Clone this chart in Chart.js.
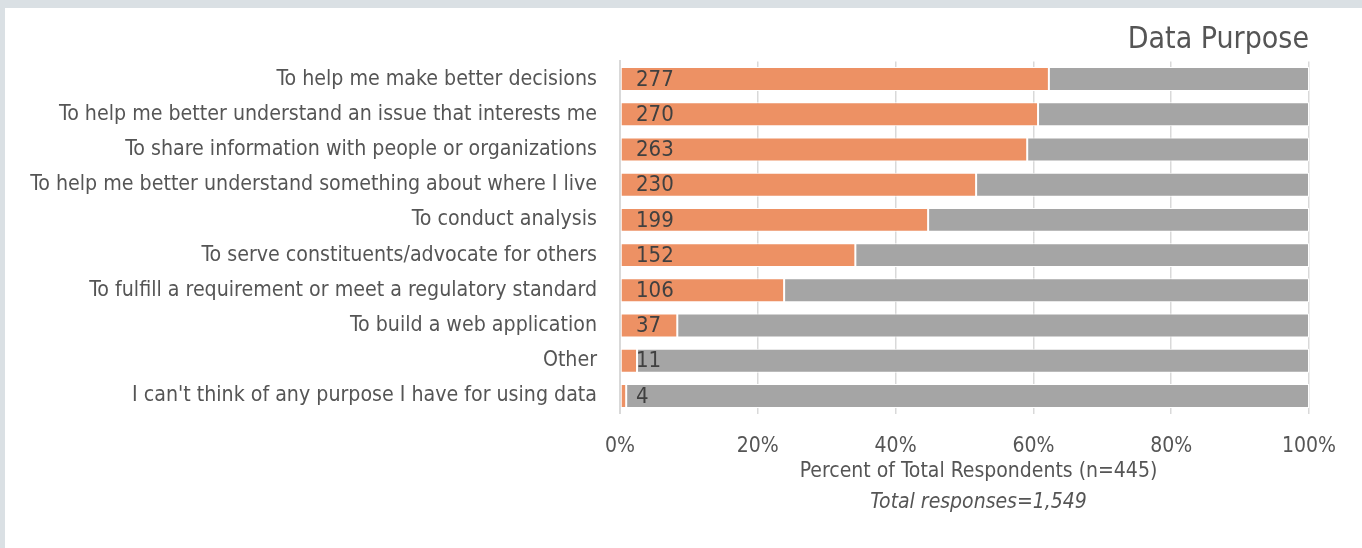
<!DOCTYPE html>
<html>
<head>
<meta charset="utf-8">
<title>Data Purpose</title>
<script src="https://cdn.jsdelivr.net/npm/chart.js@4"></script>
<style>
    body {margin: 0; background: #dae0e4;}
    #painel {position: absolute; left: 5px; top: 8px; width: 1357px; height: 540px; background: #ffffff;}
</style>
</head>
<body>
<div id="painel"><canvas id="graficoProposito"></canvas></div>
<script>
const purposes = [
    'To help me make better decisions',
    'To help me better understand an issue that interests me',
    'To share information with people or organizations',
    'To help me better understand something about where I live',
    'To conduct analysis',
    'To serve constituents/advocate for others',
    'To fulfill a requirement or meet a regulatory standard',
    'To build a web application',
    'Other',
    "I can't think of any purpose I have for using data"
];
const counts = [277, 270, 263, 230, 199, 152, 106, 37, 11, 4];
const totalRespondents = 445;
const totalResponses = '1,549';
const percentTicks = [0, 20, 40, 60, 80, 100];

const shares = counts.map(c => c / totalRespondents * 100);
const rest = shares.map(p => 100 - p);

const fonte = '"DejaVu Sans Condensed", "Roboto Condensed", sans-serif';
const cinza = '#555555';

// contagem escrita no início de cada barra + títulos do eixo x
const rotulos = {
    id: 'rotulos',
    afterDatasetsDraw(chart) {
        const ctx = chart.ctx;
        const area = chart.chartArea;
        ctx.save();
        ctx.fillStyle = '#404040';
        ctx.font = '22px ' + fonte;
        ctx.textBaseline = 'middle';
        ctx.textAlign = 'left';
        chart.getDatasetMeta(0).data.forEach((bar, i) => {
            ctx.fillText(counts[i], area.left + 16, bar.y + 1);
        });

        const cx = (area.left + area.right) / 2 + 14;
        ctx.fillStyle = cinza;
        ctx.textAlign = 'center';
        ctx.textBaseline = 'alphabetic';
        ctx.font = '21px ' + fonte;
        ctx.fillText('Percent of Total Respondents (n=' + totalRespondents + ')', cx, 469);
        ctx.font = 'italic 21px ' + fonte;
        ctx.fillText('Total responses=' + totalResponses, cx, 500);
        ctx.restore();
    }
};

const ctxProposito = document.getElementById('graficoProposito').getContext('2d');

new Chart(ctxProposito, {
    type: 'bar',
    data: {
        labels: purposes,
        datasets: [{
            label: 'Respondents',
            data: shares,
            backgroundColor: '#ed9164',
            borderColor: '#ffffff',
            borderWidth: 1,
            borderSkipped: false
        }, {
            label: 'Others',
            data: rest,
            backgroundColor: '#a5a5a5',
            borderColor: '#ffffff',
            borderWidth: 1,
            borderSkipped: false
        }]
    },
    options: {
        indexAxis: 'y',
        responsive: true,
        maintainAspectRatio: false,
        animation: false,
        datasets: {bar: {categoryPercentage: 1, barPercentage: 0.68}},
        layout: {padding: {top: 0, right: 53, bottom: 0, left: 0}},
        plugins: {
            title: {
                display: true,
                text: 'Data Purpose',
                align: 'end',
                color: cinza,
                font: {family: fonte, size: 30, weight: 'normal'},
                padding: {top: 14, bottom: 3.4}
            },
            legend: {display: false},
            tooltip: {enabled: false}
        },
        scales: {
            x: {
                stacked: true,
                min: 0,
                max: 100,
                afterBuildTicks: scale => {
                    scale.ticks = percentTicks.map(v => ({value: v}));
                },
                afterFit: scale => { scale.height = 134.4; },
                ticks: {
                    callback: value => value + '%',
                    color: cinza,
                    padding: 20,
                    font: {family: fonte, size: 21}
                },
                grid: {color: '#d9d9d9', lineWidth: 1.5, drawTicks: false},
                border: {display: false}
            },
            y: {
                stacked: true,
                afterFit: scale => { scale.width = 615; },
                ticks: {
                    color: cinza,
                    padding: 23,
                    font: {family: fonte, size: 21.2}
                },
                grid: {display: false, drawTicks: false},
                border: {color: '#d9d9d9', width: 2}
            }
        }
    },
    plugins: [rotulos]
});
</script>
</body>
</html>
